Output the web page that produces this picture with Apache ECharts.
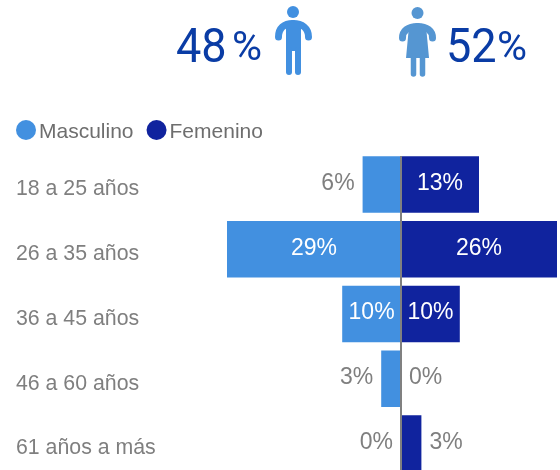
<!DOCTYPE html>
<html><head><meta charset="utf-8">
<style>html,body{margin:0;padding:0;background:#fff}#c{width:560px;height:470px}</style>
<script src="https://cdn.jsdelivr.net/npm/echarts@6/dist/echarts.min.js"></script>
</head><body><div id="c"></div>
<script>
const categories = ['18 a 25 años','26 a 35 años','36 a 45 años','46 a 60 años','61 años a más'];
const masculino = [6.4, 29, 9.8, 3.3, 0];
const femenino = [13, 26, 9.8, 0, 3.4];
const totalMasculino = '48';
const totalFemenino = '52';
const percentSign = '%';

const FONT = '"Liberation Sans", Arial, sans-serif';
const pct = v => Math.round(Math.abs(v)) + '%';
const makeData = (vals, sign, outerPos) => vals.map(v => {
  const inside = v >= 8;
  return {
    value: sign * v,
    label: inside
      ? {position:'inside', color:'#fff', offset:[0,-1]}
      : {position:outerPos, color:'#7f7f7f', distance:8, offset:[0,-1]}
  };
});

const stroke = (color, w) => ({stroke:color, lineWidth:w, lineCap:'round', fill:null});
const MAN = '#4290e0', WOMAN = '#5596d2';
const man = [
  {type:'circle', shape:{cx:293,cy:12,r:6}, style:{fill:MAN}},
  {type:'bezierCurve', shape:{x1:278.5,y1:37,cpx1:278.5,cpy1:28,cpx2:284,cpy2:23.5,x2:293,y2:23.5}, style:stroke(MAN,7)},
  {type:'bezierCurve', shape:{x1:308.5,y1:37,cpx1:308.5,cpy1:28,cpx2:302,cpy2:23.5,x2:293,y2:23.5}, style:stroke(MAN,7)},
  {type:'rect', shape:{x:286,y:22,width:15,height:29}, style:{fill:MAN}},
  {type:'line', shape:{x1:289,y1:50,x2:289,y2:72}, style:stroke(MAN,6)},
  {type:'line', shape:{x1:298,y1:50,x2:298,y2:72}, style:stroke(MAN,6)}
];
const woman = [
  {type:'circle', shape:{cx:417.5,cy:13,r:6}, style:{fill:WOMAN}},
  {type:'bezierCurve', shape:{x1:402.5,y1:38,cpx1:402.5,cpy1:31,cpx2:408,cpy2:26.5,x2:417.5,y2:26.5}, style:stroke(WOMAN,7)},
  {type:'bezierCurve', shape:{x1:432.5,y1:38,cpx1:432.5,cpy1:31,cpx2:427,cpy2:26.5,x2:417.5,y2:26.5}, style:stroke(WOMAN,7)},
  {type:'polygon', shape:{points:[[409,26],[426,26],[429,58],[406,58]]}, style:{fill:WOMAN}},
  {type:'line', shape:{x1:413.5,y1:56,x2:413.5,y2:74}, style:stroke(WOMAN,5.5)},
  {type:'line', shape:{x1:422.5,y1:56,x2:422.5,y2:74}, style:stroke(WOMAN,5.5)}
];

const chart = echarts.init(document.getElementById('c'), null, {renderer:'canvas'});
const labelBase = {show:true, fontFamily:FONT, fontSize:23, formatter:p => pct(p.value)};
chart.setOption({
  animation:false,
  backgroundColor:'#fff',
  legend:{
    left:16, top:120, padding:0, itemWidth:20, itemHeight:20, itemGap:13, icon:'circle',
    formatter:'{a|{name}}',
    textStyle:{rich:{a:{fontFamily:FONT, fontSize:21, color:'#6e6e6e', padding:[4,0,0,-2]}}},
    data:['Masculino','Femenino']
  },
  grid:{left:221, top:152, width:360, height:324, outerBoundsMode:'none', containLabel:false},
  xAxis:{type:'value', min:-30, max:30, show:false},
  yAxis:{
    type:'category', inverse:true, data:categories, z:10,
    axisLine:{show:true, onZero:true, lineStyle:{color:'#808080', width:2}},
    axisTick:{show:false},
    axisLabel:{align:'left', margin:205, formatter:'{a|{value}}', rich:{a:{fontFamily:FONT, fontSize:21.3, color:'#7f7f7f', padding:[10,0,0,0]}}}
  },
  series:[
    {name:'Masculino', type:'bar', barGap:'-100%', barWidth:56.5, itemStyle:{color:'#4290e0'}, label:labelBase, data:makeData(masculino,-1,'left')},
    {name:'Femenino', type:'bar', barGap:'-100%', barWidth:56.5, itemStyle:{color:'#10239e'}, label:labelBase, data:makeData(femenino,1,'right')}
  ],
  graphic:[
    {type:'rect', z:100, shape:{x:396,y:150,width:10,height:6}, style:{fill:'#fff'}},
    {type:'text', x:176, y:25, scaleX:0.92, style:{text:totalMasculino, font:'49px Roboto', fill:'#0a3ca5'}},
    {type:'text', x:232, y:29, style:{text:percentSign, font:'41px Roboto', fill:'#0a3ca5'}},
    {type:'text', x:446, y:25, scaleX:0.92, style:{text:totalFemenino, font:'49px Roboto', fill:'#0a3ca5'}},
    {type:'text', x:497, y:29, style:{text:percentSign, font:'41px Roboto', fill:'#0a3ca5'}},
    ...man, ...woman
  ]
});
</script></body></html>
